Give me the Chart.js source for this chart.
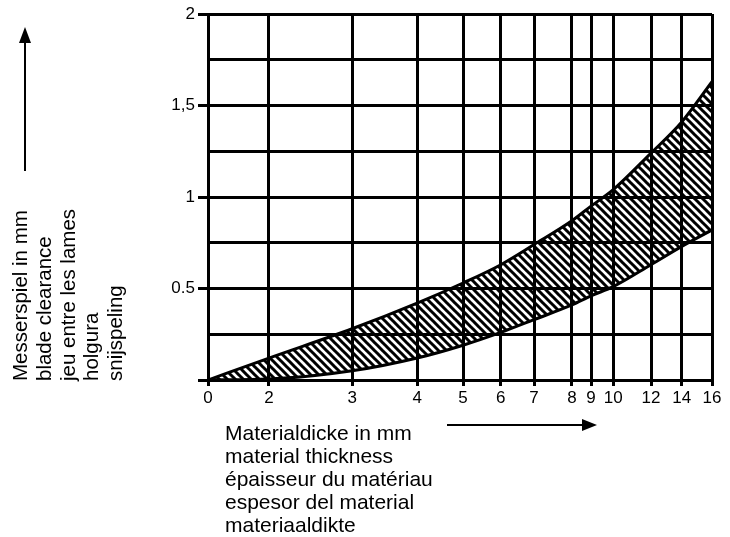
<!DOCTYPE html>
<html><head><meta charset="utf-8">
<script src="https://cdn.jsdelivr.net/npm/chart.js@4.4.1/dist/chart.umd.min.js"></script>
<style>html,body{margin:0;padding:0;background:#fff;} #wrap{width:730px;height:537px;position:relative;}</style>
</head><body><div id="wrap"><canvas id="c" width="730" height="537"></canvas></div>
<script>
// ---- data ----
const thickness    = [0, 2, 3, 4, 5, 6, 7, 8, 9, 10, 12, 14, 16];
const maxClearance = [0, 0.12, 0.28, 0.42, 0.53, 0.63, 0.74, 0.87, 0.95, 1.04, 1.24, 1.41, 1.63];
const minClearance = [0, 0.005, 0.05, 0.12, 0.19, 0.26, 0.33, 0.41, 0.46, 0.51, 0.63, 0.73, 0.82];
const xTickValues  = [0, 2, 3, 4, 5, 6, 7, 8, 9, 10, 12, 14, 16];
const xTickLabels  = ['0','2','3','4','5','6','7','8','9','10','12','14','16'];
const yLabelValues = [0.5, 1, 1.5, 2];
const yLabelTexts  = ['0.5', '1', '1,5', '2'];
const yTitleLines  = ['Messerspiel in mm', 'blade clearance', 'jeu entre les lames', 'holgura', 'snijspeling'];
const xTitleLines  = ['Materialdicke in mm', 'material thickness', 'épaisseur du matériau', 'espesor del material', 'materiaaldikte'];
// axis definition of the original's non-uniform thickness scale (fraction of axis length per tick)
const xTickFractions = [0, 0.121, 0.286, 0.415, 0.506, 0.581, 0.647, 0.722, 0.760, 0.804, 0.879, 0.940, 1];

// ---- custom piecewise-linear scale ----
class PiecewiseScale extends Chart.LinearScale {
  static id = 'piecewise';
  static defaults = {};
  buildTicks() { return xTickValues.map(v => ({ value: v })); }
  _frac(v) {
    const tv = xTickValues, tf = xTickFractions;
    if (v <= tv[0]) return tf[0];
    for (let i = 1; i < tv.length; i++) {
      if (v <= tv[i]) { const t = (v - tv[i-1]) / (tv[i] - tv[i-1]); return tf[i-1] + t * (tf[i] - tf[i-1]); }
    }
    return tf[tf.length - 1];
  }
  getPixelForValue(v) { return (v === null || isNaN(v)) ? NaN : this.getPixelForDecimal(this._frac(v)); }
  getValueForPixel(p) {
    const d = this.getDecimalForPixel(p), tv = xTickValues, tf = xTickFractions;
    if (d <= tf[0]) return tv[0];
    for (let i = 1; i < tf.length; i++) {
      if (d <= tf[i]) { const t = (d - tf[i-1]) / (tf[i] - tf[i-1]); return tv[i-1] + t * (tv[i] - tv[i-1]); }
    }
    return tv[tv.length - 1];
  }
}
Chart.register(PiecewiseScale);

// ---- hatch pattern ----
function makeHatch() {
  const s = 8, cv = document.createElement('canvas');
  cv.width = s; cv.height = s;
  const g = cv.getContext('2d');
  g.strokeStyle = '#000'; g.lineWidth = 3;
  g.beginPath();
  g.moveTo(-1, -1); g.lineTo(s + 1, s + 1);
  g.moveTo(s - 1, -1); g.lineTo(s + 1, 1);
  g.moveTo(-1, s - 1); g.lineTo(1, s + 1);
  g.stroke();
  return g.createPattern(cv, 'repeat');
}
const hatch = makeHatch();

const FONT = '"Liberation Sans", Arial, Helvetica, sans-serif';
Chart.defaults.font.family = FONT;
Chart.defaults.color = '#000';

const annot = {
  id: 'annot',
  afterDraw(chart) {
    const c = chart.ctx;
    c.save();
    c.fillStyle = '#000'; c.strokeStyle = '#000';
    c.textAlign = 'left'; c.textBaseline = 'alphabetic';
    c.font = '21px ' + FONT;
    xTitleLines.forEach((s, i) => c.fillText(s, 225, 440 + i * 23));
    c.save();
    c.font = '20.5px ' + FONT;
    c.translate(0, 381); c.rotate(-Math.PI / 2);
    yTitleLines.forEach((s, i) => c.fillText(s, 0, 27 + i * 23.8));
    c.restore();
    // x arrow
    c.lineWidth = 2;
    c.beginPath(); c.moveTo(447, 425); c.lineTo(584, 425); c.stroke();
    c.beginPath(); c.moveTo(597, 425); c.lineTo(582, 419); c.lineTo(582, 431); c.closePath(); c.fill();
    // y arrow
    c.beginPath(); c.moveTo(25, 171); c.lineTo(25, 40); c.stroke();
    c.beginPath(); c.moveTo(25, 27); c.lineTo(19, 43); c.lineTo(31, 43); c.closePath(); c.fill();
    c.restore();
  }
};

new Chart(document.getElementById('c'), {
  type: 'line',
  data: {
    datasets: [
      { label: 'max', data: thickness.map((t, i) => ({ x: t, y: maxClearance[i] })),
        borderColor: '#000', borderWidth: 3, pointRadius: 0, fill: '+1', backgroundColor: hatch,
        cubicInterpolationMode: 'monotone' },
      { label: 'min', data: thickness.map((t, i) => ({ x: t, y: minClearance[i] })),
        borderColor: '#000', borderWidth: 3, pointRadius: 0, fill: false,
        cubicInterpolationMode: 'monotone' }
    ]
  },
  options: {
    responsive: false, animation: false, devicePixelRatio: 1,
    layout: { padding: { left: 0, top: 14, right: 18, bottom: 0 } },
    plugins: { legend: { display: false }, tooltip: { enabled: false } },
    scales: {
      x: {
        type: 'piecewise', min: 0, max: 16,
        afterFit: s => { s.height = 157; },
        grid: { color: '#000', lineWidth: 3, tickLength: 6, tickWidth: 3 },
        border: { color: '#000', width: 3 },
        ticks: { autoSkip: false, maxRotation: 0, padding: 2, font: { size: 17 },
          callback: (v) => { const i = xTickValues.indexOf(v); return i >= 0 ? xTickLabels[i] : ''; } }
      },
      y: {
        min: 0, max: 2,
        afterFit: s => { s.width = 208; },
        grid: { color: '#000', lineWidth: 3, tickLength: 10, tickWidth: 3,
          tickColor: (ctx) => (ctx.tick && (ctx.tick.value === 0 || yLabelValues.includes(ctx.tick.value))) ? '#000' : 'rgba(0,0,0,0)' },
        border: { color: '#000', width: 3 },
        ticks: { stepSize: 0.25, padding: 3, font: { size: 17 },
          callback: (v) => { const i = yLabelValues.indexOf(v); return i >= 0 ? yLabelTexts[i] : ''; } }
      }
    }
  },
  plugins: [annot]
});
</script>
</body></html>
